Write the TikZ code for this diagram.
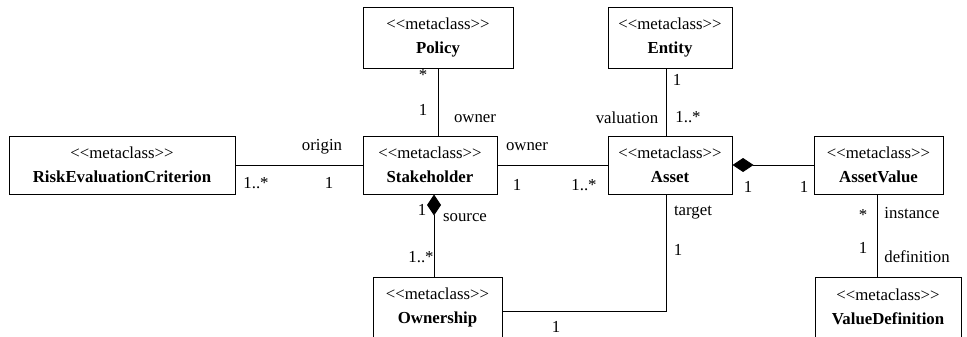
\documentclass[tikz,border=0pt]{standalone}
\usepackage{fontspec}
\setmainfont{Liberation Serif}
\usetikzlibrary{arrows.meta,positioning,calc}
\newcommand{\metaclass}{<\kern0pt<metaclass>\kern0pt>}

\begin{document}
\begin{tikzpicture}[x=0.75pt,y=-0.75pt,
      metabox/.style={draw,fill=white,minimum height=43.5pt,align=center,
                      inner sep=0pt,line width=0.75pt,
                      font=\fontsize{12.6}{18}\selectfont},
      assoc/.style={draw=black,line width=0.75pt},
      owned/.style={assoc,{Diamond[length=15.75pt,width=10.5pt]}-},
      mult/.style={font=\fontsize{12.6}{14}\selectfont,inner sep=0pt}]
    \useasboundingbox (0,0) rectangle (967,336);
    \node[metabox,minimum width=169.5pt] (risk) at (122,165)
      {\metaclass\\\textbf{RiskEvaluationCriterion}};
    \node[metabox,minimum width=112.5pt,minimum height=45.75pt] (policy) at (438,37.5)
      {\metaclass\\\textbf{Policy}};
    \node[metabox,minimum width=93pt,minimum height=45.75pt] (entity) at (670,37.5)
      {\metaclass\\\textbf{Entity}};
    \node[metabox,minimum width=100.5pt] (stake) at (430,165)
      {\metaclass\\\textbf{Stakeholder}};
    \node[metabox,minimum width=93pt] (asset) at (670,165)
      {\metaclass\\\textbf{Asset}};
    \node[metabox,minimum width=96.75pt] (avalue) at (878.5,165)
      {\metaclass\\\textbf{AssetValue}};
    \node[metabox,minimum width=96.75pt,minimum height=45pt] (own) at (437.5,307)
      {\metaclass\\\textbf{Ownership}};
    \node[metabox,minimum width=109.5pt,minimum height=45pt] (vdef) at (888,307)
      {\metaclass\\\textbf{ValueDefinition}};
    \draw[assoc] (risk) -- (stake);
    \draw[assoc] (policy) -- (policy.south |- stake.north);
    \draw[assoc] ([xshift=-3pt]entity.south) -- ([xshift=-3pt]entity.south |- asset.north);
    \draw[assoc] (stake) -- (asset);
    \draw[owned] (asset) -- (avalue);
    \draw[owned] ([xshift=3pt]stake.south) -- ([xshift=3pt]stake.south |- own.north);
    \draw[assoc] ([xshift=-3pt]asset.south) |- ([yshift=-3pt]own.east);
    \draw[assoc] ([xshift=-1pt]avalue.south) -- ([xshift=-1pt]avalue.south |- vdef.north);
    \node[mult] (risk-role) at (322,147) {origin};
    \node[mult] (risk-mult) at (256,183) {1..*};
    \node[mult] (stake-risk) at (329,183) {1};
    \node[mult] (policy-mult) at (423,75) {*};
    \node[mult] (stake-policy) at (423,110) {1};
    \node[mult] (policy-role) at (475,119) {owner};
    \node[mult] (asset-role) at (527,147) {owner};
    \node[mult] (stake-asset) at (517,185) {1};
    \node[mult] (asset-mult) at (584,185) {1..*};
    \node[mult] (entity-mult) at (677,80) {1};
    \node[mult] (asset-entity) at (688,117) {1..*};
    \node[mult] (entity-role) at (627,118) {valuation};
    \node[mult] (asset-avalue) at (748,187) {1};
    \node[mult] (avalue-mult) at (804,187) {1};
    \node[mult] (target-role) at (693,213) {target};
    \node[mult] (target-mult) at (678,250) {1};
    \node[mult] (stake-own) at (422,210) {1};
    \node[mult] (source-role) at (465,218) {source};
    \node[mult] (own-mult) at (421,257) {1..*};
    \node[mult] (own-asset) at (556,327) {1};
    \node[mult] (avalue-vdef) at (863,215) {*};
    \node[mult] (instance-role) at (912,213) {instance};
    \node[mult] (vdef-mult) at (863,248) {1};
    \node[mult] (definition-role) at (917,257) {definition};
  \end{tikzpicture}
\end{document}
